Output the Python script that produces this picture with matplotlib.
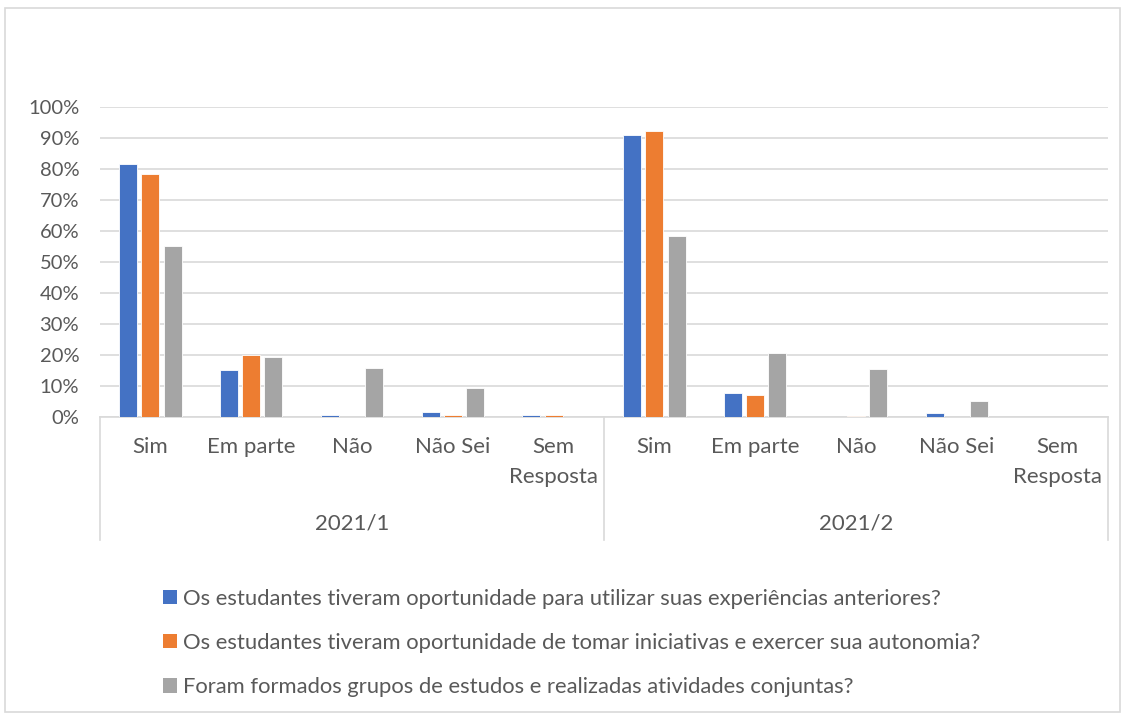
import matplotlib.pyplot as plt
import numpy as np
from matplotlib.patches import Rectangle, Patch
from matplotlib.lines import Line2D
import matplotlib.transforms as mtransforms

plt.rcParams['font.family'] = ['Lato', 'DejaVu Sans']

periods = ["2021/1", "2021/2"]
answers = ["Sim", "Em parte", "Não", "Não Sei", "Sem\nResposta"]
questions = [
    "Os estudantes tiveram oportunidade para utilizar suas experiências anteriores?",
    "Os estudantes tiveram oportunidade de tomar iniciativas e exercer sua autonomia?",
    "Foram formados grupos de estudos e realizadas atividades conjuntas?",
]

# percentages, 2021/1 answers followed by 2021/2 answers
experiencias = [81.6, 15.2, 0.7, 1.6, 0.7, 91.0, 7.7, 0.0, 1.4, 0.0]
autonomia = [78.4, 20.0, 0.0, 0.8, 0.8, 92.3, 7.0, 0.3, 0.0, 0.0]
grupos = [55.2, 19.4, 15.9, 9.5, 0.0, 58.4, 20.7, 15.6, 5.2, 0.0]

colors = ["#4472C4", "#ED7D31", "#A5A5A5"]
text_color = "#595959"
grid_color = "#D9D9D9"

W, H = 1125, 715
fig = plt.figure(figsize=(W / 100, H / 100), dpi=100)
ax = fig.add_axes([100 / W, 1 - 417 / H, 1008 / W, 310 / H])

x = np.arange(len(experiencias))
width = 0.18
step = 0.22
for i, vals in enumerate([experiencias, autonomia, grupos]):
    ax.bar(x + (i - 1) * step, vals, width, color=colors[i],
           edgecolor="white", linewidth=0.6, zorder=3)

ax.set_xlim(-0.5, len(x) - 0.5)
ax.set_ylim(0, 100)
ax.set_yticks(np.arange(0, 101, 10))
ax.set_yticklabels([f"{v}%" for v in range(0, 101, 10)])
ax.tick_params(axis="y", length=0, pad=15, labelsize=14.5, labelcolor=text_color)
ax.set_xticks([])
ax.grid(axis="y", color=grid_color, linewidth=1.2, zorder=0)
for s in ["top", "right", "left"]:
    ax.spines[s].set_visible(False)
ax.spines["bottom"].set_color(grid_color)
ax.spines["bottom"].set_linewidth(1.2)

# category labels and period labels below the axis
trans = mtransforms.blended_transform_factory(ax.transData, ax.transAxes)
labels = answers * len(periods)
for xi, lab in zip(x, labels):
    ax.text(xi, -0.065, lab, transform=trans, ha="center", va="top",
            fontsize=16, color=text_color, linespacing=1.6)
for j, p in enumerate(periods):
    ax.text(j * 5 + 2, -0.342, p, transform=trans, ha="center", va="center",
            fontsize=16, color=text_color)
for xs in [-0.5, 4.5, 9.5]:
    ax.add_line(Line2D([xs, xs], [0, -0.397], transform=trans, color=grid_color,
                       linewidth=1.2, clip_on=False))

# legend
handles = [Patch(facecolor=c) for c in colors]
leg = fig.legend(handles, questions, loc="upper left",
                 bbox_to_anchor=(154 / W, 1 - 580 / H), frameon=False,
                 fontsize=15.8, handlelength=0.63, handleheight=0.63,
                 handletextpad=0.3, labelspacing=1.1, borderaxespad=0)
for t in leg.get_texts():
    t.set_color(text_color)

# chart border
fig.patches.append(Rectangle((5 / W, 3 / H), 1115 / W, 704 / H, transform=fig.transFigure,
                             fill=False, edgecolor=grid_color, linewidth=1.2))

fig.savefig("out.png", dpi=100)
